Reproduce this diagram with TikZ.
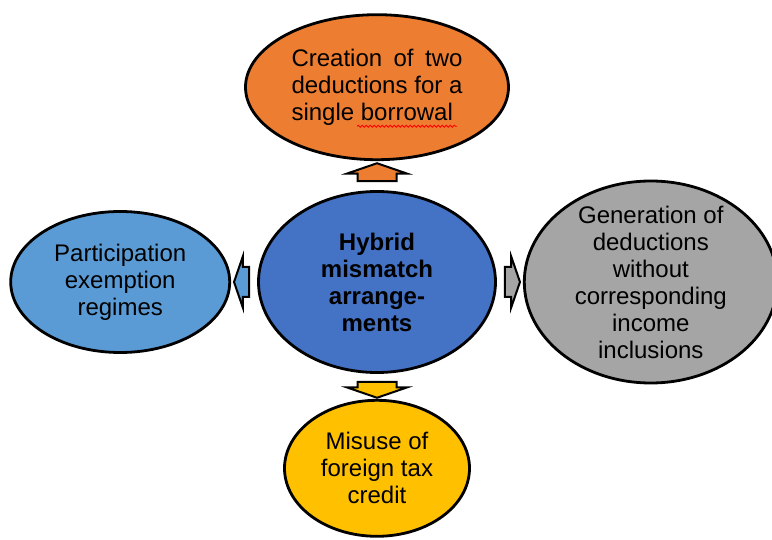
\documentclass[tikz,border=0pt]{standalone}
\usepackage{fontspec}
\setmainfont{Liberation Sans}
\usepackage{xcolor}
\usetikzlibrary{calc}
\usetikzlibrary{positioning}
\usetikzlibrary{shapes}
\usetikzlibrary{decorations.pathmorphing}
\definecolor{hubblue}{HTML}{4472C4}
\definecolor{dedorange}{HTML}{ED7D31}
\definecolor{partblue}{HTML}{5B9BD5}
\definecolor{gengray}{HTML}{A5A5A5}
\definecolor{misgold}{HTML}{FFC000}
\begin{document}
\begin{tikzpicture}[font=\fontsize{24}{27}\selectfont,
      blob style/.style={ellipse,draw=black,line width=2.8pt,align=center,inner sep=-30pt},
      tip style/.style={single arrow,draw=black,line width=2pt,inner xsep=0pt,
        single arrow tip angle=142,single arrow head extend=10.5pt}
      ]
      \useasboundingbox (0,0) rectangle (772pt,539pt);
      \node[blob style,fill=hubblue,minimum width=237pt,minimum height=181pt,
        font=\fontsize{24}{27}\selectfont\bfseries] (hybrid) at (377pt,257pt)
        {Hybrid\\mismatch\\arrange-\\ments};
      \node[blob style,fill=dedorange,minimum width=263pt,minimum height=145pt,
        text width=171pt,align=justify,above=29pt of hybrid] (twoded)
        {Creation of two deductions for a single borrowal};
      \node[blob style,fill=partblue,minimum width=219pt,minimum height=141pt,
        left=26pt of hybrid] (partex) {Participation\\exemption\\regimes};
      \node[blob style,fill=gengray,minimum width=253pt,minimum height=202pt,
        right=26pt of hybrid] (gended)
        {Generation of\\deductions\\without\\corresponding\\income\\inclusions};
      \node[blob style,fill=misgold,minimum width=185pt,minimum height=136pt,
        below=25pt of hybrid] (misuse) {Misuse of\\foreign tax\\credit};
      % block arrows between the hub and the outer ellipses
      \node[tip style,fill=dedorange,inner ysep=18.5pt,minimum height=18pt,rotate=90]
        (up) at ($(hybrid.north)!0.5!(twoded.south)$) {};
      \node[tip style,fill=misgold,inner ysep=18.5pt,minimum height=16pt,rotate=-90]
        (down) at ($(hybrid.south)!0.5!(misuse.north)$) {};
      \node[tip style,fill=partblue,inner ysep=14pt,minimum height=15pt,rotate=180]
        (west) at ($(hybrid.west)!0.5!(partex.east)$) {};
      \node[tip style,fill=gengray,inner ysep=14pt,minimum height=15pt]
        (east) at ($(hybrid.east)!0.5!(gended.west)$) {};
      % spelling mark under the last word
      \draw[red,line width=0.8pt,decorate,decoration={snake,amplitude=1pt,segment length=4pt}]
        ($(twoded.center)+(-20pt,-39pt)$) -- ($(twoded.center)+(80pt,-39pt)$);
\end{tikzpicture}
\end{document}
